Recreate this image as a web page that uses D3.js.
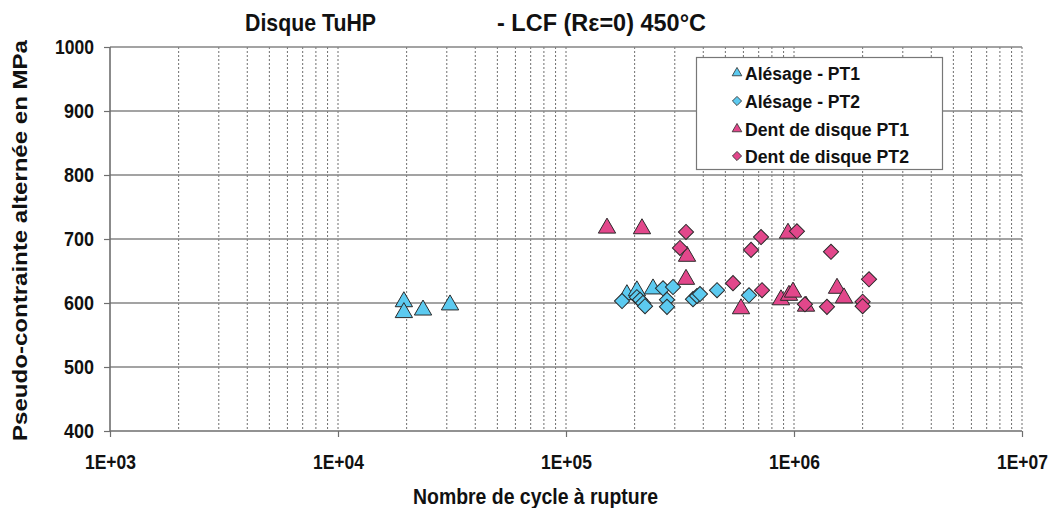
<!DOCTYPE html>
<html><head><meta charset="utf-8">
<script src="https://cdn.jsdelivr.net/npm/d3@7"></script>
<style>
body{margin:0;background:#fff}
svg{display:block}
text{font-family:"Liberation Sans",Arial,sans-serif;font-weight:bold;fill:#111}
</style>
</head><body>
<svg id="c" width="1055" height="508"></svg>
<script>
// ---- data (cycles to failure, pseudo-stress MPa) ----
const titleLeft = "Disque TuHP";
const titleRight = "- LCF (R\u03b5=0) 450\u00b0C";
const xTitle = "Nombre de cycle \u00e0 rupture";
const yTitle = "Pseudo-contrainte altern\u00e9e en MPa";
const seriesNames = ["Al\u00e9sage - PT1", "Al\u00e9sage - PT2", "Dent de disque PT1", "Dent de disque PT2"];
const xTickValues = [1e3, 1e4, 1e5, 1e6, 1e7];
const xTickLabels = ["1E+03", "1E+04", "1E+05", "1E+06", "1E+07"];
const yTickValues = [400, 500, 600, 700, 800, 900, 1000];

const alesagePT1 = [
  [19450, 602], [19450, 585], [23600, 589], [31000, 597],
  [185000, 613], [204600, 619], [240800, 622]
];
const alesagePT2 = [
  [176100, 603], [204600, 609], [211200, 605], [217600, 600], [222100, 595],
  [266400, 623], [294700, 625], [277300, 605], [277300, 594],
  [360600, 606], [375500, 611], [387000, 614], [459600, 620], [634800, 612]
];
const dentPT1 = [
  [151300, 717], [215400, 716], [339500, 673], [336000, 637],
  [585600, 591], [941200, 709], [877000, 605], [950700, 612],
  [990000, 617], [1129000, 595], [1544000, 623], [1657000, 608]
];
const dentPT2 = [
  [336000, 711], [316200, 686], [540100, 631], [648000, 683], [716800, 703],
  [724000, 620], [1030000, 712], [1117000, 598], [1395000, 594], [1453000, 680],
  [2133000, 637], [2000000, 602], [2000000, 595]
];

// ---- drawing ----
const svg = d3.select("#c");
const x = d3.scaleLog().domain([1e3, 1e7]).range([110, 1022]);
const y = d3.scaleLinear().domain([400, 1000]).range([431, 47]);

const cyan = "#5ccaf0", magenta = "#e2478b";
const series = [
  {name: seriesNames[0], data: alesagePT1, shape: "tri", color: cyan},
  {name: seriesNames[1], data: alesagePT2, shape: "dia", color: cyan},
  {name: seriesNames[2], data: dentPT1, shape: "tri", color: magenta},
  {name: seriesNames[3], data: dentPT2, shape: "dia", color: magenta}
];

// minor vertical grid
const minor = [];
for (let e = 3; e < 7; e++) for (let k = 2; k <= 10; k++) minor.push(k * Math.pow(10, e));
svg.append("g").selectAll("line").data(minor).join("line")
  .attr("x1", d => x(d)).attr("x2", d => x(d))
  .attr("y1", y(1000)).attr("y2", y(400))
  .attr("stroke", "#6f6f6f").attr("stroke-width", 1).attr("stroke-dasharray", "2,2");

// horizontal grid
svg.append("g").selectAll("line").data(yTickValues.filter(v => v > 400)).join("line")
  .attr("x1", x(1e3)).attr("x2", x(1e7))
  .attr("y1", d => y(d)).attr("y2", d => y(d))
  .attr("stroke", "#858585").attr("stroke-width", 1.5);

// axes
const gy = svg.append("g").attr("transform", `translate(${x(1e3)},0)`)
  .call(d3.axisLeft(y).tickValues(yTickValues).tickSize(6).tickPadding(10).tickFormat(d3.format("d")));
const gx = svg.append("g").attr("transform", `translate(0,${y(400)})`)
  .call(d3.axisBottom(x).tickValues(xTickValues).tickSize(6).tickPadding(18)
    .tickFormat((d, i) => xTickLabels[i]));
[gx, gy].forEach(g => {
  g.attr("font-size", 20).attr("font-family", "'Liberation Sans',Arial,sans-serif").attr("font-weight", "bold");
  g.select(".domain").attr("stroke", "#6e6e6e").attr("stroke-width", 1.6);
  g.selectAll(".tick line").attr("stroke", "#6e6e6e").attr("stroke-width", 1.2);
  g.selectAll(".tick text").style("font-size", "20px").attr("fill", "#111")
    .attr("lengthAdjust", "spacingAndGlyphs");
});
gx.selectAll(".tick text").attr("textLength", 51);
gy.selectAll(".tick text").attr("textLength", d => d >= 1000 ? 39 : 30);
gx.select(".domain").attr("d", `M${x(1e3)},0H${x(1e7)}`);
gy.select(".domain").attr("d", `M0,${y(400)}V${y(1000)}`);

// markers
const triSize = 130, diaSize = 115;
function marker(sel, shape, size) {
  if (shape === "tri") sel.attr("d", d3.symbol(d3.symbolTriangle, size)());
  else sel.attr("d", d3.symbol(d3.symbolSquare, size)());
}
series.forEach(s => {
  svg.append("g").selectAll("path").data(s.data).join("path")
    .each(function () { marker(d3.select(this), s.shape, s.shape === "tri" ? triSize : diaSize); })
    .attr("transform", d => `translate(${x(d[0])},${y(d[1])})` + (s.shape === "dia" ? " rotate(45)" : ""))
    .attr("fill", s.color).attr("stroke", "#2a2a2a").attr("stroke-width", 1);
});

// legend
const lg = svg.append("g");
lg.append("rect").attr("x", 696.5).attr("y", 57.5).attr("width", 246).attr("height", 112)
  .attr("fill", "#fff").attr("stroke", "#777").attr("stroke-width", 1.2);
const legY = [74, 102, 130, 157];
const legW = [115, 115, 164, 164];
series.forEach((s, i) => {
  lg.append("path")
    .each(function () { marker(d3.select(this), s.shape, s.shape === "tri" ? 40 : 42); })
    .attr("transform", `translate(737,${legY[i] - 1})` + (s.shape === "dia" ? " rotate(45)" : ""))
    .attr("fill", s.color).attr("stroke", "#2a2a2a").attr("stroke-width", 0.8);
  lg.append("text").attr("x", 745).attr("y", legY[i] + 6).text(s.name)
    .style("font-size", "18px").attr("textLength", legW[i]).attr("lengthAdjust", "spacingAndGlyphs");
});

// titles
svg.append("text").attr("x", 245).attr("y", 31).text(titleLeft)
  .style("font-size", "24px").attr("textLength", 131).attr("lengthAdjust", "spacingAndGlyphs");
svg.append("text").attr("x", 497).attr("y", 31).text(titleRight)
  .style("font-size", "24px").attr("textLength", 209).attr("lengthAdjust", "spacingAndGlyphs");
svg.append("text").attr("x", 413).attr("y", 504).text(xTitle)
  .style("font-size", "22px").attr("textLength", 245).attr("lengthAdjust", "spacingAndGlyphs");
svg.append("text").attr("transform", "translate(27,441) rotate(-90)").text(yTitle)
  .style("font-size", "21px").attr("textLength", 401).attr("lengthAdjust", "spacingAndGlyphs");
</script>
</body></html>
